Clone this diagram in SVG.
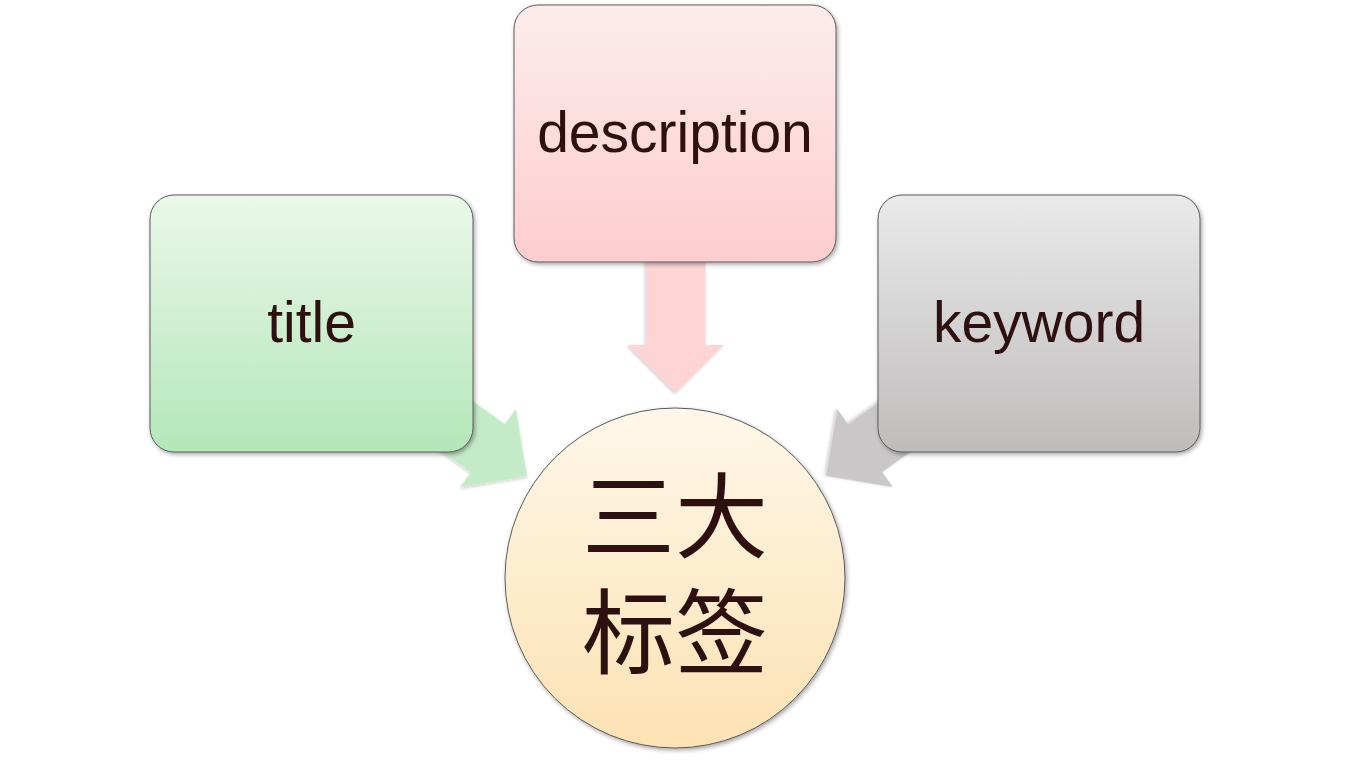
<svg xmlns="http://www.w3.org/2000/svg" width="1352" height="760" viewBox="0 0 1352 760">
<defs>
<linearGradient id="gGreen" x1="0" y1="0" x2="0" y2="1"><stop offset="0" stop-color="#eaf8ea"/><stop offset="1" stop-color="#b4e7b8"/></linearGradient>
<linearGradient id="gPink" x1="0" y1="0" x2="0" y2="1"><stop offset="0" stop-color="#fdeced"/><stop offset="1" stop-color="#fdcdce"/></linearGradient>
<linearGradient id="gGray" x1="0" y1="0" x2="0" y2="1"><stop offset="0" stop-color="#eaeaea"/><stop offset="1" stop-color="#bfbcbc"/></linearGradient>
<linearGradient id="gGold" x1="0" y1="0" x2="0" y2="1"><stop offset="0" stop-color="#fef7e9"/><stop offset="1" stop-color="#fde2b3"/></linearGradient>
<filter id="sh" x="-20%" y="-20%" width="140%" height="140%">
<feDropShadow dx="1.5" dy="2" stdDeviation="2" flood-color="#000" flood-opacity="0.35"/>
</filter>
<filter id="shA" x="-20%" y="-20%" width="140%" height="140%">
<feDropShadow dx="1" dy="1.5" stdDeviation="1.5" flood-color="#000" flood-opacity="0.2"/>
</filter>
<path id="arrow" d="M0,0 L-48,-48 L-48,-29.5 L-140,-29.5 L-140,29.5 L-48,29.5 L-48,48 Z"/>
</defs>
<style>
.box{stroke:#5a5a5a;stroke-width:1;filter:url(#sh)}
.lbl{font-family:"Liberation Sans",Arial,sans-serif;font-size:57px;fill:#2e1010;text-anchor:middle}
.cjk{font-family:"Noto Sans CJK SC","Noto Sans",sans-serif;font-size:93px;fill:#2e1010;text-anchor:middle}
</style>
<rect width="1352" height="760" fill="#ffffff"/>
<g id="connectors">
<use href="#arrow" fill="#c4ebc7" filter="url(#shA)" transform="translate(527,476) rotate(35.5)"/>
<use href="#arrow" fill="#ffd4d4" filter="url(#shA)" transform="translate(676,393) rotate(90)"/>
<use href="#arrow" fill="#c9c7c7" filter="url(#shA)" transform="translate(826,476) rotate(144.5)"/>
</g>
<g id="node-title">
<rect class="box" x="150" y="195" width="323" height="257" rx="24" fill="url(#gGreen)"/>
<text class="lbl" x="311.5" y="342">title</text>
</g>
<g id="node-description">
<rect class="box" x="514" y="5" width="322" height="257" rx="24" fill="url(#gPink)"/>
<text class="lbl" x="675" y="152">description</text>
</g>
<g id="node-keyword">
<rect class="box" x="878" y="195" width="322" height="257" rx="24" fill="url(#gGray)"/>
<text class="lbl" x="1039" y="342">keyword</text>
</g>
<g id="node-center">
<circle class="box" cx="675" cy="578" r="170" fill="url(#gGold)"/>
<text class="cjk"><tspan x="675" y="551">三大</tspan><tspan x="675" y="667">标签</tspan></text>
</g>
</svg>
